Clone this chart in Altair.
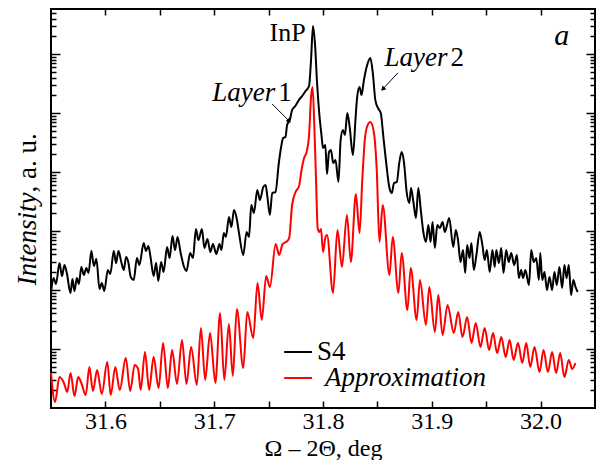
import altair as alt
import pandas as pd

FONT = "Liberation Serif"

# ---- data: (2theta deg, log10 intensity a.u.) ----
s4_points = [
    (31.5500, 1.949), (31.5523, 2.203), (31.5546, 2.102), (31.5578, 2.458), (31.5601, 2.237),
    (31.5624, 2.424), (31.5647, 2.271), (31.5679, 1.949), (31.5697, 2.186), (31.5715, 1.983),
    (31.5738, 2.203), (31.5756, 2.102), (31.5779, 2.390), (31.5802, 2.254), (31.5825, 2.373),
    (31.5845, 2.288), (31.5871, 2.661), (31.5894, 2.407), (31.5917, 2.525), (31.5946, 2.017),
    (31.5967, 2.119), (31.5990, 1.983), (31.6022, 2.339), (31.6045, 2.271), (31.6077, 2.661),
    (31.6098, 2.458), (31.6120, 2.661), (31.6146, 2.475), (31.6169, 2.339), (31.6190, 2.559),
    (31.6210, 2.475), (31.6233, 2.220), (31.6260, 2.169), (31.6290, 2.542), (31.6312, 2.424),
    (31.6352, 2.797), (31.6373, 2.661), (31.6395, 2.746), (31.6416, 2.542), (31.6443, 2.237),
    (31.6466, 2.458), (31.6486, 2.153), (31.6512, 2.475), (31.6535, 2.305), (31.6567, 2.729),
    (31.6590, 2.542), (31.6617, 2.915), (31.6640, 2.678), (31.6663, 2.898), (31.6690, 2.644),
    (31.6723, 2.390), (31.6745, 2.322), (31.6779, 2.627), (31.6805, 2.542), (31.6832, 3.034),
    (31.6855, 2.847), (31.6887, 3.034), (31.6910, 2.712), (31.6938, 2.864), (31.6965, 2.644),
    (31.6988, 2.780), (31.7020, 2.610), (31.7048, 2.780), (31.7066, 2.678), (31.7089, 2.966),
    (31.7107, 2.898), (31.7136, 3.237), (31.7158, 3.068), (31.7182, 3.356), (31.7206, 3.220),
    (31.7228, 2.966), (31.7267, 2.593), (31.7298, 2.983), (31.7320, 2.898), (31.7341, 3.441),
    (31.7365, 3.305), (31.7396, 3.695), (31.7420, 3.525), (31.7451, 3.746), (31.7472, 3.780),
    (31.7487, 3.610), (31.7512, 3.271), (31.7533, 3.644), (31.7563, 3.661), (31.7594, 4.153),
    (31.7615, 4.424), (31.7634, 4.576), (31.7655, 4.593), (31.7670, 4.797), (31.7695, 4.881),
    (31.7716, 5.051), (31.7746, 5.119), (31.7778, 5.220), (31.7808, 5.288), (31.7840, 5.373),
    (31.7872, 5.458), (31.7890, 5.898), (31.7908, 6.475), (31.7927, 6.153), (31.7945, 5.525),
    (31.7963, 5.051), (31.7986, 4.627), (31.8000, 4.407), (31.8021, 4.458), (31.8037, 3.966),
    (31.8055, 4.339), (31.8073, 4.373), (31.8094, 4.153), (31.8115, 4.203), (31.8142, 3.831),
    (31.8162, 4.542), (31.8183, 4.712), (31.8202, 4.627), (31.8223, 5.000), (31.8245, 4.763),
    (31.8275, 4.288), (31.8300, 4.932), (31.8314, 5.271), (31.8336, 5.441), (31.8354, 5.305),
    (31.8376, 5.559), (31.8406, 5.814), (31.8435, 5.932), (31.8458, 5.678), (31.8481, 5.220),
    (31.8510, 5.068), (31.8531, 5.000), (31.8556, 4.576), (31.8580, 4.169), (31.8611, 3.729),
    (31.8632, 3.644), (31.8653, 3.814), (31.8678, 3.831), (31.8702, 4.169), (31.8723, 4.339),
    (31.8744, 4.169), (31.8769, 3.661), (31.8794, 3.475), (31.8809, 3.729), (31.8831, 3.492),
    (31.8854, 3.220), (31.8876, 3.729), (31.8897, 3.390), (31.8922, 2.983), (31.8946, 2.814),
    (31.8968, 3.102), (31.8989, 2.814), (31.9007, 3.153), (31.9028, 2.712), (31.9050, 3.102),
    (31.9074, 3.051), (31.9099, 3.153), (31.9120, 2.983), (31.9160, 3.220), (31.9197, 2.729),
    (31.9221, 3.017), (31.9241, 2.847), (31.9264, 2.475), (31.9287, 2.678), (31.9307, 2.288),
    (31.9325, 2.763), (31.9346, 2.542), (31.9364, 2.797), (31.9386, 2.339), (31.9410, 2.593),
    (31.9440, 2.983), (31.9465, 2.763), (31.9486, 2.508), (31.9506, 2.678), (31.9532, 2.305),
    (31.9557, 2.678), (31.9578, 2.390), (31.9593, 2.678), (31.9617, 2.458), (31.9638, 2.712),
    (31.9659, 2.288), (31.9684, 2.678), (31.9707, 2.475), (31.9730, 2.627), (31.9757, 2.424),
    (31.9782, 2.593), (31.9800, 2.203), (31.9821, 2.339), (31.9839, 2.203), (31.9860, 2.339),
    (31.9893, 2.085), (31.9914, 2.678), (31.9937, 2.475), (31.9960, 2.542), (31.9984, 2.169),
    (31.9997, 2.627), (32.0015, 2.169), (32.0036, 2.305), (32.0058, 2.000), (32.0082, 2.220),
    (32.0106, 2.000), (32.0127, 2.305), (32.0149, 2.085), (32.0173, 2.390), (32.0198, 2.034),
    (32.0219, 2.424), (32.0239, 2.203), (32.0259, 2.424), (32.0280, 1.915), (32.0301, 2.169),
    (32.0321, 2.051), (32.0341, 1.966),
]

fit_points = [
    (31.5500, 0.593), (31.5537, 0.102), (31.5578, 0.525), (31.5619, 0.424), (31.5649, 0.271),
    (31.5680, 0.593), (31.5716, 0.203), (31.5750, 0.525), (31.5779, 0.424), (31.5819, 0.220),
    (31.5853, 0.695), (31.5885, 0.288), (31.5924, 0.644), (31.5967, 0.237), (31.6017, 0.780),
    (31.6049, 0.220), (31.6091, 0.695), (31.6132, 0.305), (31.6187, 0.847), (31.6228, 0.288),
    (31.6269, 0.729), (31.6301, 0.661), (31.6324, 0.305), (31.6364, 0.949), (31.6402, 0.305),
    (31.6443, 0.864), (31.6489, 0.339), (31.6530, 1.102), (31.6574, 0.339), (31.6613, 0.983),
    (31.6658, 0.407), (31.6704, 1.153), (31.6745, 0.407), (31.6788, 1.034), (31.6840, 0.390),
    (31.6878, 1.356), (31.6917, 0.475), (31.6962, 1.271), (31.7011, 0.424), (31.7054, 1.610),
    (31.7093, 0.475), (31.7135, 1.424), (31.7171, 0.542), (31.7208, 1.678), (31.7267, 0.678),
    (31.7304, 1.627), (31.7359, 1.186), (31.7398, 2.119), (31.7437, 1.492), (31.7478, 2.237),
    (31.7512, 2.051), (31.7565, 2.780), (31.7597, 2.593), (31.7629, 2.780), (31.7661, 2.814),
    (31.7689, 2.881), (31.7716, 3.441), (31.7748, 3.661), (31.7780, 3.763), (31.7803, 4.034),
    (31.7826, 4.237), (31.7849, 4.339), (31.7872, 4.627), (31.7890, 5.271), (31.7904, 5.441),
    (31.7920, 4.797), (31.7936, 3.864), (31.7951, 3.051), (31.7966, 2.983), (31.7982, 3.034),
    (31.8000, 2.644), (31.8021, 2.881), (31.8037, 2.932), (31.8092, 1.949), (31.8133, 3.017),
    (31.8174, 2.390), (31.8220, 3.271), (31.8256, 2.475), (31.8302, 3.627), (31.8336, 2.966),
    (31.8361, 3.864), (31.8384, 4.542), (31.8407, 4.780), (31.8435, 4.847), (31.8467, 4.678),
    (31.8494, 4.034), (31.8519, 2.814), (31.8549, 3.441), (31.8611, 2.254), (31.8641, 2.898),
    (31.8693, 1.949), (31.8723, 2.627), (31.8776, 1.661), (31.8806, 2.373), (31.8861, 1.492),
    (31.8891, 2.169), (31.8946, 1.407), (31.8977, 2.051), (31.9028, 1.288), (31.9060, 1.915),
    (31.9099, 1.237), (31.9145, 1.746), (31.9202, 1.271), (31.9243, 1.627), (31.9282, 1.203),
    (31.9325, 1.542), (31.9365, 1.102), (31.9404, 1.441), (31.9447, 1.034), (31.9486, 1.356),
    (31.9527, 0.983), (31.9563, 1.271), (31.9600, 0.932), (31.9639, 1.203), (31.9679, 0.864),
    (31.9715, 1.153), (31.9752, 0.814), (31.9792, 1.102), (31.9832, 0.763), (31.9868, 1.102),
    (31.9905, 0.695), (31.9944, 1.034), (31.9990, 0.610), (32.0027, 0.983), (32.0067, 0.610),
    (32.0106, 0.949), (32.0143, 0.593), (32.0180, 0.932), (32.0219, 0.525), (32.0259, 0.814),
    (32.0290, 0.661), (32.0320, 0.763),
]

x_tick_values = [31.6, 31.65, 31.7, 31.75, 31.8, 31.85, 31.9, 31.95, 32.0]
y_major_ticks = [1e1, 1e2, 1e3, 1e4, 1e5, 1e6]
y_minor_ticks = [m * 10.0 ** k for k in range(0, 7) for m in range(2, 10) if m * 10.0 ** k < 5.8e6]

label_text = ["InP", "Layer", "1", "Layer", "2", "a", "S4", "Approximation"]
label_x = [31.7675, 31.7561, 31.7588, 31.9145, 31.9172, 32.0125, 31.7945, 31.8018]
label_lg = [6.220, 5.203, 5.203, 5.797, 5.797, 6.153, 0.814, 0.373]

legend_name = ["S4", "Approximation"]
legend_color = ["black", "#ff0000"]
legend_x = [31.7643, 31.7643]
legend_x2 = [31.7899, 31.7899]
legend_lg = [0.949, 0.508]

arrow_x = [31.7533, 31.8687]
arrow_lg = [5.153, 5.678]
arrow_x2 = [31.7689, 31.8550]
arrow_lg2 = [4.864, 5.407]
arrow_angle = [135, 223]

# ---- frames ----
s4 = pd.DataFrame(s4_points, columns=["x", "lg"])
s4["I"] = 10 ** s4["lg"]
fit = pd.DataFrame(fit_points, columns=["x", "lg"])
fit["I"] = 10 ** fit["lg"]

labels = pd.DataFrame({"t": label_text, "x": label_x, "I": [10 ** v for v in label_lg]})
legend = pd.DataFrame({"name": legend_name, "c": legend_color, "x": legend_x, "x2": legend_x2,
                       "I": [10 ** v for v in legend_lg]})
arrows = pd.DataFrame({"x": arrow_x, "x2": arrow_x2, "I": [10 ** v for v in arrow_lg],
                       "I2": [10 ** v for v in arrow_lg2], "ang": arrow_angle})

W, H = 544, 399
xs = alt.Scale(domain=[31.55, 32.05], nice=False, zero=False)
ys = alt.Scale(type="log", domain=[1, 5.8e6], nice=False)


def X(axis, field="x"):
    return alt.X(f"{field}:Q", scale=xs, axis=axis)


def Y(axis, field="I"):
    return alt.Y(f"{field}:Q", scale=ys, axis=axis)


common = dict(domain=False, grid=False, tickColor="black", tickWidth=1.5)

ax_bottom = alt.Axis(orient="bottom", values=x_tick_values, tickSize=7, offset=-7,
                     labelExpr="(round(datum.value * 100) % 10 == 0) ? format(datum.value, '.1f') : ''",
                     labelFont=FONT, labelFontSize=24, labelColor="black", labelPadding=1,
                     labelFlush=False, labelOverlap=False,
                     title="Ω – 2Θ, deg", titleFont=FONT, titleFontSize=24, titleFontWeight="normal",
                     titleColor="black", titleX=W / 2, titleY=54, titleAlign="center",
                     titleBaseline="alphabetic", **common)
ax_top = alt.Axis(orient="top", values=x_tick_values, tickSize=6, offset=-6, labels=False,
                  title="", **common)
ax_left_major = alt.Axis(orient="left", values=y_major_ticks, tickSize=9, offset=-9, labels=False,
                         title="Intensity", titleFont=FONT, titleFontSize=27, titleFontStyle="italic",
                         titleFontWeight="normal", titleColor="black", titleAngle=270,
                         titleAlign="right", titleBaseline="alphabetic", titleX=-25, titleY=183,
                         **common)
ax_left_minor = alt.Axis(orient="left", values=y_minor_ticks, tickSize=5, offset=-5, labels=False,
                         title=", a. u.", titleFont=FONT, titleFontSize=27, titleFontStyle="normal",
                         titleFontWeight="normal", titleColor="black", titleAngle=270,
                         titleAlign="left", titleBaseline="alphabetic", titleX=-21, titleY=183,
                         **common)
ax_right_major = alt.Axis(orient="right", values=y_major_ticks, tickSize=9, offset=-9, labels=False,
                          title="", **common)
ax_right_minor = alt.Axis(orient="right", values=y_minor_ticks, tickSize=5, offset=-5, labels=False,
                          title="", **common)

red_line = alt.Chart(fit).mark_line(color="#ff0000", strokeWidth=2, interpolate="monotone").encode(
    x=X(ax_top), y=Y(ax_left_minor))
black_line = alt.Chart(s4).mark_line(color="black", strokeWidth=2, interpolate="monotone").encode(
    x=X(ax_bottom), y=Y(ax_left_major))
right_major = alt.Chart(s4).mark_line(opacity=0).encode(x=X(None), y=Y(ax_right_major))
right_minor = alt.Chart(fit).mark_line(opacity=0).encode(x=X(None), y=Y(ax_right_minor))

legend_lines = alt.Chart(legend).mark_rule(strokeWidth=2).encode(
    x=X(None), x2="x2:Q", y=Y(None), color=alt.Color("c:N", scale=None))

arrow_lines = alt.Chart(arrows).mark_rule(strokeWidth=1, color="black").encode(
    x=X(None), x2="x2:Q", y=Y(None), y2="I2:Q")
arrow_heads = alt.Chart(arrows).mark_point(shape="triangle-up", filled=True, size=28, color="black",
                                           opacity=1).encode(
    x=X(None, "x2"), y=Y(None, "I2"), angle=alt.Angle("ang:Q", scale=None))


def text_layer(rows, style, align, size=27):
    return alt.Chart(labels.iloc[rows]).mark_text(
        font=FONT, fontSize=size, fontStyle=style, align=align, baseline="alphabetic",
        color="black").encode(x=X(None), y=Y(None), text="t:N")


t_inp = text_layer([0], "normal", "center", 26)
t_layer = text_layer([1, 3], "italic", "right")
t_nums = text_layer([2, 4, 6], "normal", "left")
t_a = text_layer([5], "italic", "left", 30)
t_approx = text_layer([7], "italic", "left")

chart = alt.layer(
    red_line, black_line, right_major, right_minor, legend_lines, arrow_lines, arrow_heads,
    t_inp, t_layer, t_nums, t_a, t_approx
).resolve_axis(x="independent", y="independent").properties(
    width=W, height=H,
    autosize=alt.AutoSizeParams(type="none"),
    padding={"left": 43, "top": 1, "right": 1, "bottom": 52},
    background="white",
).configure_view(stroke="black", strokeWidth=2)

chart.save("out.html", embed_options={"renderer": "svg", "actions": False})
